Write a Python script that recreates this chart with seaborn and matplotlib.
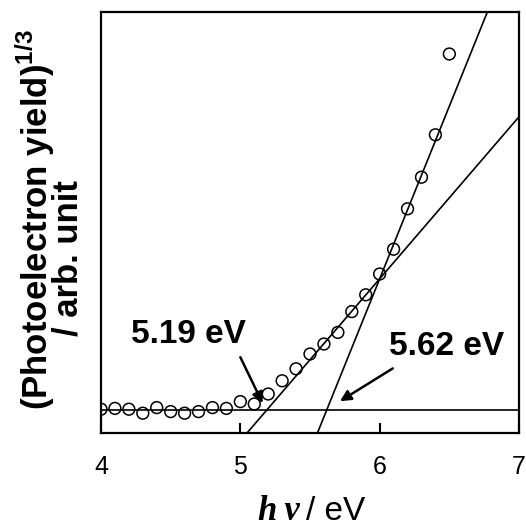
import matplotlib
matplotlib.use("Agg")
import matplotlib.pyplot as plt
import numpy as np
import pandas as pd
import seaborn as sns

# Photon energy (eV) and cube root of the photoelectron yield (arb. unit)
photon_energy = [4.0, 4.1, 4.2, 4.3, 4.4, 4.5, 4.6, 4.7, 4.8, 4.9,
                 5.0, 5.1, 5.2, 5.3, 5.4, 5.5, 5.6, 5.7, 5.8, 5.9,
                 6.0, 6.1, 6.2, 6.3, 6.4, 6.5]
yield_cbrt = [0.02, 0.04, 0.02, -0.08, 0.06, -0.04, -0.08, -0.04, 0.06, 0.04,
              0.21, 0.15, 0.40, 0.73, 1.03, 1.40, 1.65, 1.94, 2.46, 2.88,
              3.40, 4.02, 5.03, 5.82, 6.88, 8.90]

# Linear fits and their onsets on the background level
onset_energies = [5.19, 5.62]
onset_slopes = [4.05, 8.63]
onset_labels = ["5.19 eV", "5.62 eV"]
background_level = 0.0

x_ticks = [4, 5, 6, 7]

sns.set_theme(style="ticks")
plt.rcParams["font.family"] = ["Liberation Sans", "DejaVu Sans"]
plt.rcParams["mathtext.fontset"] = "custom"
plt.rcParams["mathtext.rm"] = "Liberation Sans"
plt.rcParams["mathtext.bf"] = "Liberation Sans:bold"
plt.rcParams["text.color"] = "black"
plt.rcParams["xtick.color"] = "black"
plt.rcParams["xtick.labelcolor"] = "black"

W, H = 526, 528
fig = plt.figure(figsize=(W / 100, H / 100), dpi=100)
ax = fig.add_axes([101 / W, 95 / H, 418 / W, 421 / H])

df = pd.DataFrame({"hv": photon_energy, "y": yield_cbrt})
sns.scatterplot(data=df, x="hv", y="y", ax=ax, marker="o", s=72,
                facecolors="none", edgecolor="black", linewidth=1.1,
                zorder=3, legend=False)

ax.axhline(background_level, color="black", lw=1.2, zorder=2)
for e0, k in zip(onset_energies, onset_slopes):
    ax.axline((e0, background_level), slope=k, color="black", lw=1.2, zorder=2)

ax.set_xlim(4, 7)
ax.set_ylim(-0.575, 9.95)
ax.set_xticks(x_ticks)
ax.set_xticklabels([str(t) for t in x_ticks])
ax.set_yticks([])
ax.tick_params(axis="x", direction="in", length=7, width=1.5,
               labelsize=18, pad=16, colors="black")
for sp in ax.spines.values():
    sp.set_linewidth(1.6)
    sp.set_color("black")
    sp.set_visible(True)
ax.set_xlabel("")
ax.set_ylabel("")

# Onset annotations
arrow_kw = dict(arrowstyle="-|>", lw=1.8, color="black", mutation_scale=16,
                shrinkA=0, shrinkB=0)
ax.annotate("", xy=(5.16, 0.17), xytext=(5.00, 1.32), arrowprops=arrow_kw)
ax.annotate("", xy=(5.715, 0.22), xytext=(6.094, 1.04), arrowprops=arrow_kw)
ax.text(4.625, 1.88, onset_labels[0], fontsize=24, fontweight="bold",
        ha="center", va="center", color="black")
ax.text(6.477, 1.58, onset_labels[1], fontsize=24, fontweight="bold",
        ha="center", va="center", color="black")

# Axis titles
fig.text(35 / W, 1 - 220 / H, r"(Photoelectron yield)$^{\mathbf{1/3}}$",
         rotation=90, ha="center", va="center", fontsize=25, fontweight="bold",
         color="black")
fig.text(68 / W, 1 - 258 / H, "/ arb. unit",
         rotation=90, ha="center", va="center", fontsize=25, fontweight="bold",
         color="black")
fig.text(300 / W, 8 / H, "h\u2009ν", family=["Liberation Serif", "DejaVu Serif"],
         style="italic", fontweight="bold", fontsize=25, ha="right", va="baseline",
         color="black")
fig.text(306 / W, 8 / H, "/ eV", fontsize=24, ha="left", va="baseline",
         color="black")

fig.savefig("out.png", dpi=100, facecolor="white")
